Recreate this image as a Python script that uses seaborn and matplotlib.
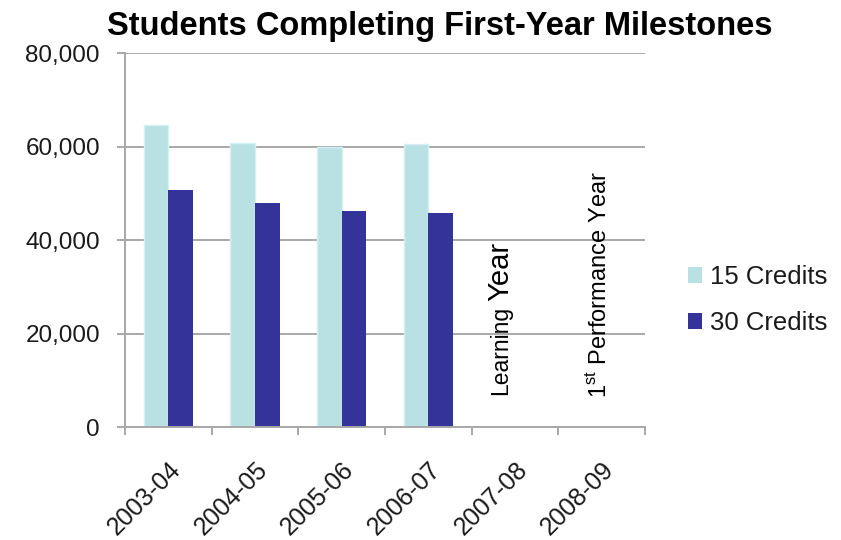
import numpy as np
import pandas as pd
import matplotlib.pyplot as plt
import matplotlib.ticker as mticker
from matplotlib.patches import Patch
import seaborn as sns

years = ['2003-04', '2004-05', '2005-06', '2006-07', '2007-08', '2008-09']
data_years = ['2003-04', '2004-05', '2005-06', '2006-07']
credits_15 = [64500, 60800, 60000, 60600]
credits_30 = [50600, 47900, 46200, 45700]
series = ['15 Credits', '30 Credits']
colors = ['#B9E1E4', '#333399']
y_ticks = [0, 20000, 40000, 60000, 80000]

GRID = '#A8A8A8'
TXT = '#1A1A1A'


def main():
    sns.set_theme(style='white')
    plt.rcParams['font.family'] = ['Liberation Sans', 'DejaVu Sans']
    plt.rcParams['mathtext.fontset'] = 'custom'
    plt.rcParams['mathtext.rm'] = 'Liberation Sans'

    df = pd.DataFrame({
        'year': data_years * 2,
        'students': credits_15 + credits_30,
        'credits': [series[0]] * len(data_years) + [series[1]] * len(data_years),
    })

    fig = plt.figure(figsize=(8.41, 5.40), dpi=100)
    ax = fig.add_axes([125 / 841, 1 - 427 / 540, 520 / 841, 374 / 540])

    sns.barplot(data=df, x='year', y='students', hue='credits', order=years,
                hue_order=series, palette=colors, width=0.566, gap=0,
                saturation=1, errorbar=None, legend=False, ax=ax,
                edgecolor='none')
    # light bars have a faint pale rim
    for bar in ax.patches[:len(data_years)]:
        bar.set_edgecolor('#D2F1F3')
        bar.set_linewidth(1.0)

    ax.set_xlim(-0.5, len(years) - 0.5)
    ax.set_ylim(0, 80000)
    ax.set_yticks(y_ticks)
    ax.yaxis.set_major_formatter(mticker.StrMethodFormatter('{x:,.0f}'))
    ax.set_xlabel('')
    ax.set_ylabel('')

    ax.grid(axis='y', color=GRID, linewidth=1.4)
    ax.set_axisbelow(True)
    for side in ['top', 'right']:
        ax.spines[side].set_visible(False)
    for side in ['left', 'bottom']:
        ax.spines[side].set_color(GRID)
        ax.spines[side].set_linewidth(1.4)

    ax.set_xticks(np.arange(-0.5, len(years), 1), minor=True)
    ax.tick_params(axis='x', which='minor', length=6, width=1.4, color=GRID,
                   direction='out', bottom=True)
    ax.tick_params(axis='x', which='major', length=0, pad=22)
    ax.tick_params(axis='y', length=6, width=1.4, color=GRID, pad=12,
                   left=True, labelsize=17.5, labelcolor=TXT)
    ax.set_xticks(range(len(years)))
    ax.set_xticklabels(years, rotation=45, ha='right', rotation_mode='anchor',
                       fontsize=18, color=TXT)

    # notes for the years without data
    t1 = ax.text(3.83, 6800, 'Learning', rotation=90, ha='center', va='bottom',
                 fontsize=16.5, color='black')
    ax.annotate('Year', xy=(0.5, 1), xycoords=t1, xytext=(0, 4),
                textcoords='offset points', rotation=90, ha='center',
                va='bottom', fontsize=21, color='black')
    ax.text(4.96, 6200, '1$^{\\rm st}$ Performance Year', rotation=90,
            ha='center', va='bottom', fontsize=17, color='black')

    handles = [Patch(facecolor=c, edgecolor='none') for c in colors]
    fig.legend(handles, series, loc='center left',
               bbox_to_anchor=(688 / 841, 1 - 300 / 540), frameon=False,
               fontsize=18.5, handlelength=0.55, handleheight=0.55,
               handletextpad=0.3, labelspacing=0.85, borderpad=0,
               borderaxespad=0, labelcolor=TXT)

    fig.text(440 / 841, 1 - 35 / 540, 'Students Completing First-Year Milestones',
             ha='center', va='baseline', fontsize=23.5, fontweight='bold',
             color='black')

    fig.savefig('out.png', dpi=100)


if __name__ == '__main__':
    main()
